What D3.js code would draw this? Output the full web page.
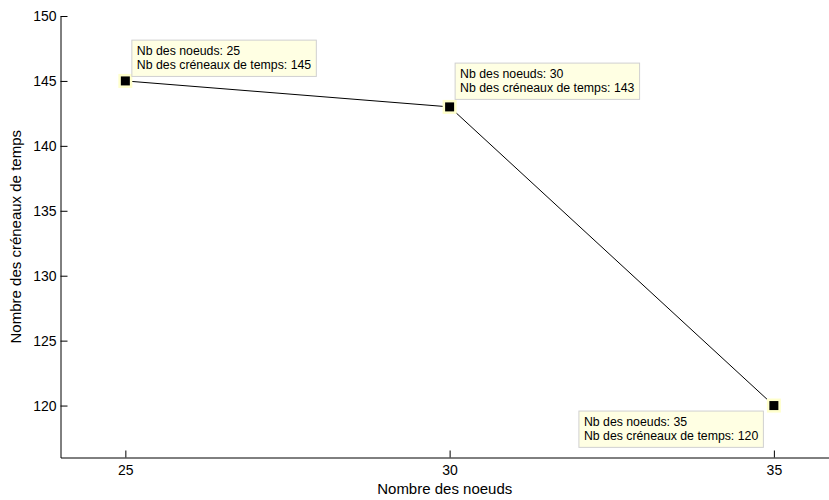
<!DOCTYPE html>
<html><head><meta charset="utf-8">
<script src="https://cdn.jsdelivr.net/npm/d3@7"></script>
<style>body{margin:0;background:#fff}svg{display:block}text{font-family:"Liberation Sans",Arial,sans-serif}</style>
</head><body><svg id="c" width="829" height="500"></svg>
<script>
const nodes = [25, 30, 35];
const slots = [145, 143, 120];
const xTicks = [25, 30, 35];
const yTicks = [120, 125, 130, 135, 140, 145, 150];
const xLabel = "Nombre des noeuds";
const yLabel = "Nombre des créneaux de temps";
const tipLine1 = "Nb des noeuds: ";
const tipLine2 = "Nb des créneaux de temps: ";

const svg = d3.select("#c");
const x = d3.scaleLinear().domain([24, 35.85]).range([60.5, 829]);
const y = d3.scaleLinear().domain([116, 150]).range([457.5, 16]);

const xAxis = d3.axisBottom(x).tickValues(xTicks).tickSizeInner(-7).tickSizeOuter(0).tickPadding(8);
const yAxis = d3.axisLeft(y).tickValues(yTicks).tickSizeInner(-7).tickSizeOuter(0).tickPadding(4);

const gx = svg.append("g").attr("transform", `translate(0,${y(116)})`).call(xAxis);
const gy = svg.append("g").attr("transform", `translate(${x(24)},0)`).call(yAxis);
[gx, gy].forEach(g => {
  g.selectAll("path,line").attr("stroke", "#000").attr("stroke-width", 1);
  g.selectAll("text").attr("fill", "#000").attr("font-size", 14).attr("font-family", '"Liberation Sans",Arial,sans-serif');
});

svg.append("text").attr("x", (60.5 + 829) / 2).attr("y", 493.5).attr("text-anchor", "middle")
  .attr("font-size", 15).text(xLabel);
svg.append("text").attr("transform", `translate(21,${(y(116) + y(150)) / 2}) rotate(-90)`).attr("text-anchor", "middle")
  .attr("font-size", 15).text(yLabel);

const data = nodes.map((n, i) => ({n, s: slots[i]}));
svg.append("path").datum(data)
  .attr("d", d3.line().x(d => x(d.n)).y(d => y(d.s)))
  .attr("fill", "none").attr("stroke", "#000").attr("stroke-width", 1);

const pts = svg.append("g").selectAll("g").data(data).join("g")
  .attr("transform", d => `translate(${x(d.n)},${y(d.s)})`);
pts.append("rect").attr("x", -7).attr("y", -7).attr("width", 14).attr("height", 14).attr("fill", "#ffffcc");
pts.append("rect").attr("x", -4.5).attr("y", -4.5).attr("width", 9).attr("height", 9).attr("fill", "#000");

const placement = [
  {dx: 6, dy: -5, ax: "left", ay: "bottom"},
  {dx: 5, dy: -8, ax: "left", ay: "bottom"},
  {dx: -11, dy: 5, ax: "right", ay: "top"}
];
data.forEach((d, i) => {
  const g = svg.append("g");
  const t = g.append("text").attr("font-size", 12.3).attr("fill", "#000");
  t.append("tspan").attr("x", 0).attr("y", 0).text(tipLine1 + d.n);
  t.append("tspan").attr("x", 0).attr("y", 14.3).text(tipLine2 + d.s);
  const bb = t.node().getBBox();
  const padX = 5, padY = 4;
  const w = bb.width + 2 * padX, h = bb.height + 2 * padY;
  const p = placement[i];
  const px = x(d.n) + p.dx, py = y(d.s) + p.dy;
  const left = p.ax === "left" ? px : px - w;
  const top = p.ay === "bottom" ? py - h : py;
  g.insert("rect", "text").attr("x", left + 0.5).attr("y", top + 0.5).attr("width", w).attr("height", h)
    .attr("fill", "#ffffe3").attr("stroke", "#d0d0d0").attr("stroke-width", 1);
  t.attr("transform", `translate(${left + 0.5 + padX - bb.x},${top + 0.5 + padY - bb.y})`);
});
</script></body></html>
